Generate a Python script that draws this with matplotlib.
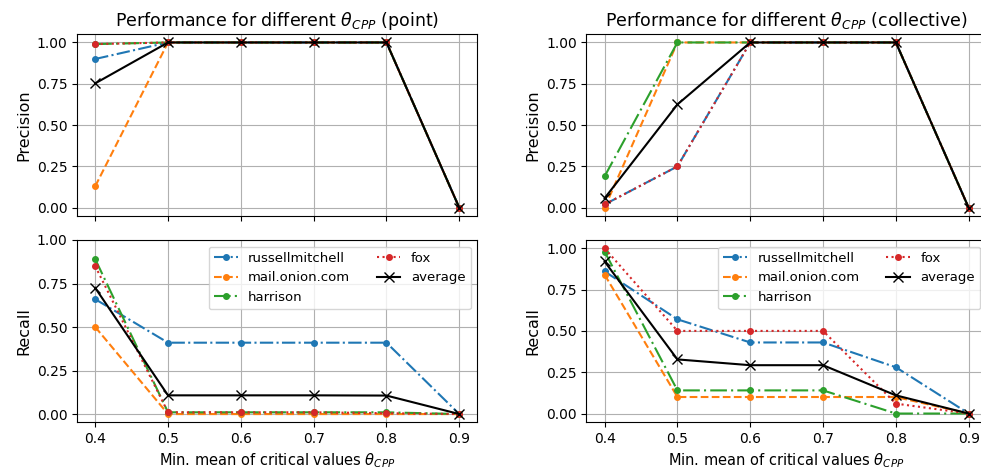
import numpy as np
import matplotlib
matplotlib.use("Agg")
import matplotlib.pyplot as plt

thresholds = [0.4, 0.5, 0.6, 0.7, 0.8, 0.9]
names = ["russellmitchell", "mail.onion.com", "harrison", "fox"]

# precision / recall per dataset, one row per dataset in `names` order
precision_point = [
    [0.90, 1.00, 1.00, 1.00, 1.00, 0.00],
    [0.13, 1.00, 1.00, 1.00, 1.00, 0.00],
    [0.99, 1.00, 1.00, 1.00, 1.00, 0.00],
    [0.99, 1.00, 1.00, 1.00, 1.00, 0.00],
]
recall_point = [
    [0.66, 0.41, 0.41, 0.41, 0.41, 0.00],
    [0.50, 0.00, 0.00, 0.00, 0.00, 0.00],
    [0.89, 0.01, 0.01, 0.01, 0.01, 0.00],
    [0.85, 0.01, 0.01, 0.01, 0.005, 0.00],
]
precision_collective = [
    [0.02, 0.25, 1.00, 1.00, 1.00, 0.00],
    [0.00, 1.00, 1.00, 1.00, 1.00, 0.00],
    [0.19, 1.00, 1.00, 1.00, 1.00, 0.00],
    [0.02, 0.25, 1.00, 1.00, 1.00, 0.00],
]
recall_collective = [
    [0.86, 0.57, 0.43, 0.43, 0.28, 0.00],
    [0.84, 0.10, 0.10, 0.10, 0.10, 0.00],
    [0.98, 0.14, 0.14, 0.14, 0.00, 0.00],
    [1.00, 0.50, 0.50, 0.50, 0.06, 0.00],
]

styles = [
    dict(color="tab:blue", linestyle="-."),
    dict(color="tab:orange", linestyle="--"),
    dict(color="tab:green", linestyle=(0, (8, 2, 1, 2))),
    dict(color="tab:red", linestyle=":"),
]


def plot_metric(ax, values, ylabel, legend=False):
    for name, vals, st in zip(names, values, styles):
        ax.plot(thresholds, vals, marker=".", markersize=8, label=name, **st)
    avg = np.mean(np.array(values), axis=0)
    ax.plot(thresholds, avg, color="black", marker="x", markersize=7, label="average")
    ax.set_ylabel(ylabel, fontsize=11.5)
    ax.set_xticks(thresholds)
    ax.set_yticks([0, 0.25, 0.5, 0.75, 1.0])
    ax.grid(True)
    if legend:
        ax.legend(loc="upper right", ncol=2, fontsize=9.5, handlelength=1.8)


fig, axes = plt.subplots(2, 2, figsize=(9.81, 4.75), dpi=100, sharex="col")
# right column runs slightly past the canvas edge
fig.subplots_adjust(left=0.0785, right=1.006, top=0.928, bottom=0.112,
                    wspace=0.272, hspace=0.132)

plot_metric(axes[0, 0], precision_point, "Precision")
plot_metric(axes[1, 0], recall_point, "Recall", legend=True)
plot_metric(axes[0, 1], precision_collective, "Precision")
plot_metric(axes[1, 1], recall_collective, "Recall", legend=True)

axes[0, 0].set_title(r"Performance for different $\theta_{CPP}$ (point)", fontsize=12.5)
axes[0, 1].set_title(r"Performance for different $\theta_{CPP}$ (collective)", fontsize=12.5)
for ax in axes[1]:
    ax.set_xlabel(r"Min. mean of critical values $\theta_{CPP}$", fontsize=10.5)

fig.savefig("out.png", dpi=100)
